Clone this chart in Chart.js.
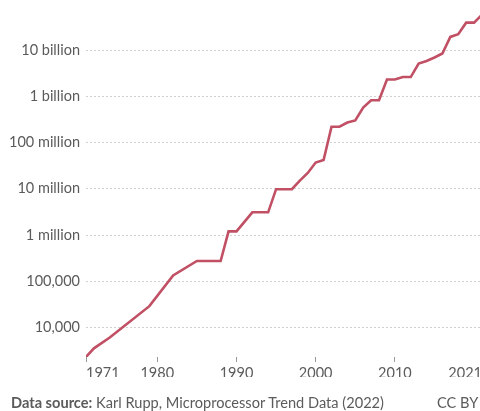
<!DOCTYPE html>
<html>
<head>
<meta charset="utf-8">
<script src="https://cdn.jsdelivr.net/npm/chart.js@4.4.1/dist/chart.umd.min.js"></script>
<style>
  html, body { margin: 0; padding: 0; background: #fff; overflow: hidden; }
  #wrap { position: relative; width: 490px; height: 411px; }
  #footer {
    position: absolute; left: 11px; top: 394px; width: 478px;
    font: 14.6px Lato, sans-serif; color: #5b5b5b; white-space: nowrap;
  }
  #footer b { font-weight: 700; }
  #footer .lic { position: absolute; left: 426px; top: 0; }
</style>
</head>
<body>
<div id="wrap">
  <canvas id="chart" width="490" height="411"></canvas>
  <div id="footer"><b>Data source:</b> Karl Rupp, Microprocessor Trend Data (2022)<span class="lic">CC BY</span></div>
</div>
<script>
// transistors per microprocessor, largest chip of each year
const years = [1971, 1972, 1974, 1979, 1982, 1985, 1988, 1989, 1990, 1992, 1994,
  1995, 1997, 1998, 1999, 2000, 2001, 2002, 2003, 2004, 2005, 2006, 2007, 2008,
  2009, 2010, 2011, 2012, 2013, 2014, 2015, 2016, 2017, 2018, 2019, 2020, 2021];
const transistors = [2308, 3555, 6098, 29000, 134000, 275000, 275000, 1200000, 1200000,
  3100000, 3100000, 9800000, 9800000, 15000000, 22000000, 37000000, 42000000,
  220000000, 220000000, 270000000, 300000000, 570000000, 820000000, 820000000,
  2300000000, 2300000000, 2600000000, 2600000000, 5100000000, 5800000000,
  6900000000, 8400000000, 19200000000, 21900000000, 39000000000, 39000000000,
  58000000000];

const yearTicks = [1971, 1980, 1990, 2000, 2010, 2021];
const countTicks = [1e4, 1e5, 1e6, 1e7, 1e8, 1e9, 1e10];
const countLabels = ["10,000", "100,000", "1 million", "10 million", "100 million", "1 billion", "10 billion"];

const labelFont = { family: "Lato", size: 14.5 };
const textColor = "#5b5b5b";

new Chart(document.getElementById("chart"), {
  type: "line",
  data: {
    datasets: [{
      data: years.map((y, i) => ({ x: y, y: transistors[i] })),
      borderColor: "#c15065",
      borderWidth: 2.6,
      pointRadius: 0,
      tension: 0,
      fill: false,
    }],
  },
  options: {
    responsive: false,
    animation: false,
    layout: { padding: { top: 14, right: 8, bottom: 34, left: 0 } },
    plugins: { legend: { display: false }, tooltip: { enabled: false } },
    scales: {
      x: {
        type: "linear",
        min: years[0],
        max: years[years.length - 1],
        afterBuildTicks: (scale) => { scale.ticks = yearTicks.map((v) => ({ value: v })); },
        afterFit: (scale) => { scale.height = 20; },
        grid: { drawOnChartArea: false, drawTicks: true, tickLength: 5, color: "#999" },
        border: { display: false },
        ticks: {
          align: "inner",
          maxRotation: 0,
          padding: 3,
          color: textColor,
          font: labelFont,
          callback: (v) => String(v),
        },
      },
      y: {
        type: "logarithmic",
        min: Math.min(...transistors),
        max: Math.max(...transistors),
        afterBuildTicks: (scale) => { scale.ticks = countTicks.map((v) => ({ value: v })); },
        afterFit: (scale) => { scale.width = 86; },
        grid: { drawTicks: false, color: "#d0d0d0", lineWidth: 1 },
        border: { display: false, dash: [2, 2] },
        ticks: {
          padding: 6,
          color: textColor,
          font: labelFont,
          callback: (v) => countLabels[countTicks.indexOf(v)],
        },
      },
    },
  },
});
</script>
</body>
</html>
